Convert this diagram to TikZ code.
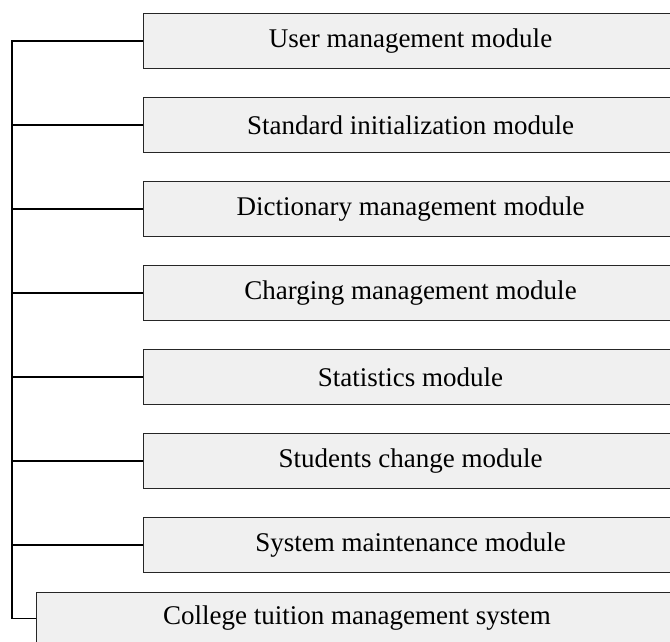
\documentclass[tikz,border=0pt]{standalone}
\usepackage{fontspec}
\setmainfont{Liberation Serif}
\usetikzlibrary{positioning}
\definecolor{boxgray}{HTML}{F0F0F0}
\begin{document}
\begin{tikzpicture}[x=1pt,y=1pt,
		module/.style={draw=black!85,fill=boxgray,line width=1pt,anchor=north west,
			minimum width=534pt,minimum height=55pt,inner sep=0pt,
			font=\fontsize{27pt}{32pt}\selectfont},
		link/.style={black,line width=1.3pt}]
		% Fixes the size of the page to the picture
		\useasboundingbox (0,0) rectangle (670,-641);
		% Draws the seven module boxes, one below the other
		\node [module] (m1) at (143,-13) {User management module};
		\node [module,below=28pt of m1.south west,anchor=north west] (m2) {Standard initialization module};
		\node [module,below=28pt of m2.south west,anchor=north west] (m3) {Dictionary management module};
		\node [module,below=28pt of m3.south west,anchor=north west] (m4) {Charging management module};
		\node [module,below=28pt of m4.south west,anchor=north west] (m5) {Statistics module};
		\node [module,below=28pt of m5.south west,anchor=north west] (m6) {Students change module};
		\node [module,below=28pt of m6.south west,anchor=north west] (m7) {System maintenance module};
		% Draws the system box at the bottom
		\node [module,minimum width=641pt,minimum height=52pt] (sys) at (36,-592) {College tuition management system};
		% Draws the trunk line on the left and the branches to the modules
		\coordinate (bus) at (12,0);
		\draw [link,line width=1.8pt] (sys.west) -| (bus |- sys.west);
		\draw [link] (bus |- sys.west) -- (bus |- m1.west) -- (m1.west);
		\foreach \i in {2,...,7}
		\draw [link] (bus |- m\i.west) -- (m\i.west); % Draws a branch
		\end{tikzpicture}
\end{document}
